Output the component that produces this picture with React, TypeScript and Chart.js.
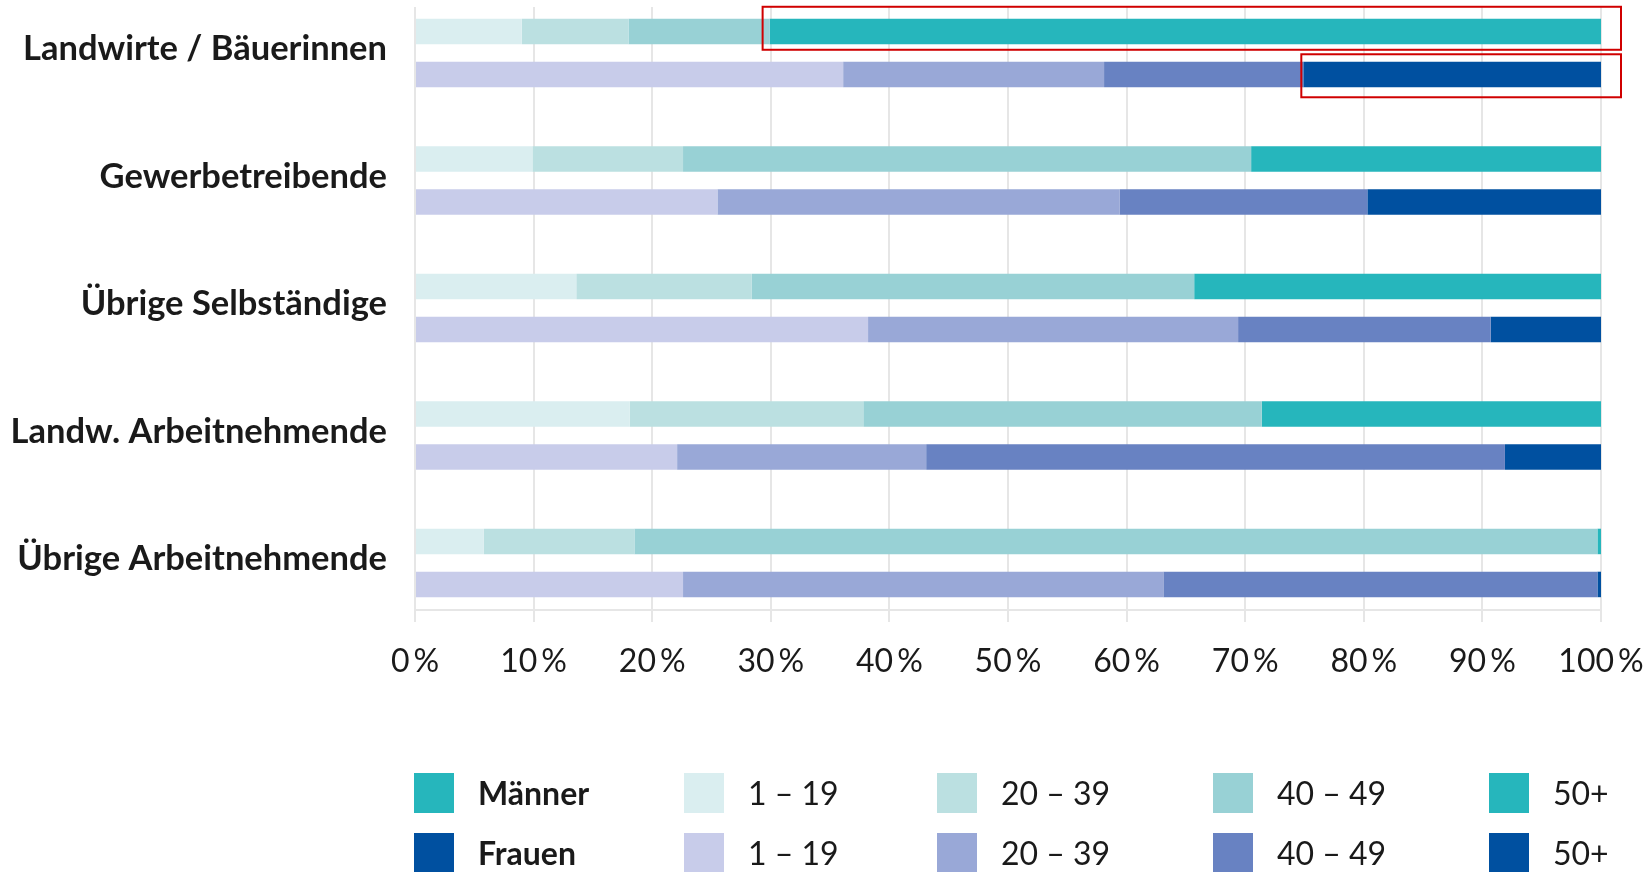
import React, { useEffect, useRef } from 'react';
import { Chart, registerables } from 'chart.js';

Chart.register(...registerables);

// ---- data ----
const CATEGORIES = [
  'Landwirte / Bäuerinnen',
  'Gewerbetreibende',
  'Übrige Selbständige',
  'Landw. Arbeitnehmende',
  'Übrige Arbeitnehmende',
];
const GENDERS = ['Männer', 'Frauen'];
const AGE_GROUPS = ['1 – 19', '20 – 39', '40 – 49', '50+'];

const MEN_1_19 = [9.0, 9.9, 13.6, 18.1, 5.8];
const MEN_20_39 = [9.0, 12.7, 14.8, 19.7, 12.7];
const MEN_40_49 = [11.9, 47.9, 37.3, 33.6, 81.2];
const MEN_50_PLUS = [70.1, 29.5, 34.3, 28.6, 0.3];

const WOMEN_1_19 = [36.1, 25.5, 38.2, 22.1, 22.6];
const WOMEN_20_39 = [22.0, 33.9, 31.2, 21.0, 40.5];
const WOMEN_40_49 = [16.8, 20.9, 21.3, 48.8, 36.6];
const WOMEN_50_PLUS = [25.1, 19.7, 9.3, 8.1, 0.3];

const X_TICKS = [0, 10, 20, 30, 40, 50, 60, 70, 80, 90, 100];

// ---- styles ----
const MEN_COLORS = ['#DAEEF0', '#BBE0E1', '#98D1D5', '#26B6BC'];
const WOMEN_COLORS = ['#C8CCEA', '#99A8D7', '#6882C2', '#0050A0'];
const GRID_COLOR = '#E6E6E6';
const TEXT_COLOR = '#1a1a1a';
const FONT = 'Lato';

const Y_MIN = -0.361;
const Y_MAX = 4.369;

const LEGEND_X = [414, 684, 937, 1213, 1489];
const LEGEND_Y = [773, 833];

export default function App() {
  const canvasRef = useRef<HTMLCanvasElement | null>(null);

  useEffect(() => {
    const canvas = canvasRef.current;
    if (!canvas) return;

    const menSeries = [MEN_1_19, MEN_20_39, MEN_40_49, MEN_50_PLUS];
    const womenSeries = [WOMEN_1_19, WOMEN_20_39, WOMEN_40_49, WOMEN_50_PLUS];

    const toPoints = (arr: number[]) => arr.map((v, i) => ({ x: v, y: i }));

    const datasets: any[] = [];
    menSeries.forEach((s, k) =>
      datasets.push({
        label: `${GENDERS[0]} ${AGE_GROUPS[k]}`,
        data: toPoints(s),
        backgroundColor: MEN_COLORS[k],
        stack: 'M',
        borderWidth: 0,
      })
    );
    womenSeries.forEach((s, k) =>
      datasets.push({
        label: `${GENDERS[1]} ${AGE_GROUPS[k]}`,
        data: toPoints(s),
        backgroundColor: WOMEN_COLORS[k],
        stack: 'F',
        borderWidth: 0,
      })
    );

    const highlights = [
      { dataset: 3, index: 0, l: 7, r: 20, t: 12, b: 5.5 },
      { dataset: 7, index: 0, l: 2, r: 20, t: 7.5, b: 10 },
    ];

    const highlightPlugin = {
      id: 'highlightBoxes',
      afterDatasetsDraw(chart: any) {
        const ctx = chart.ctx;
        ctx.save();
        ctx.strokeStyle = '#D00000';
        ctx.lineWidth = 2;
        highlights.forEach((h) => {
          const el = chart.getDatasetMeta(h.dataset).data[h.index];
          if (!el) return;
          const { x, y, base, height } = el.getProps(['x', 'y', 'base', 'height'], true);
          const left = Math.min(x, base) - h.l;
          const right = Math.max(x, base) + h.r;
          const top = y - height / 2 - h.t;
          const bottom = y + height / 2 + h.b;
          ctx.strokeRect(left, top, right - left, bottom - top);
        });
        ctx.restore();
      },
    };

    const chart = new Chart(canvas, {
      type: 'bar',
      data: { datasets },
      plugins: [highlightPlugin],
      options: {
        indexAxis: 'y',
        animation: false,
        responsive: false,
        devicePixelRatio: 1,
        categoryPercentage: 0.6745,
        barPercentage: 0.593,
        layout: { padding: { top: 7, right: 49, left: 0, bottom: 0 } },
        plugins: {
          legend: { display: false },
          tooltip: { enabled: false },
          title: { display: false },
        },
        scales: {
          x: {
            type: 'linear',
            position: 'bottom',
            stacked: true,
            min: 0,
            max: 100,
            afterBuildTicks: (scale: any) => {
              scale.ticks = X_TICKS.map((v) => ({ value: v }));
            },
            afterFit: (scale: any) => {
              scale.height = 262;
              scale.paddingLeft = 0;
              scale.paddingRight = 0;
            },
            grid: {
              color: GRID_COLOR,
              lineWidth: 2,
              drawTicks: true,
              tickLength: 12,
              tickColor: GRID_COLOR,
            },
            border: { display: true, color: GRID_COLOR, width: 2 },
            ticks: {
              font: { family: FONT, size: 32 },
              color: TEXT_COLOR,
              padding: 20,
              maxRotation: 0,
              autoSkip: false,
              callback: (v: any) => `${v}\u2009%`,
            },
          },
          y: {
            type: 'linear',
            position: 'left',
            reverse: true,
            offset: false,
            bounds: 'data',
            min: Y_MIN,
            max: Y_MAX,
            afterBuildTicks: (scale: any) => {
              scale.ticks = CATEGORIES.map((_, i) => ({ value: i }));
            },
            afterFit: (scale: any) => {
              scale.width = 415;
              scale.paddingTop = 0;
              scale.paddingBottom = 0;
            },
            grid: { display: false, drawTicks: false, offset: false },
            border: { display: false },
            ticks: {
              font: { family: FONT, size: 34.5, weight: 'bold' },
              color: TEXT_COLOR,
              padding: 28,
              labelOffset: -4,
              autoSkip: false,
              callback: (v: any) => CATEGORIES[Math.round(Number(v))] ?? '',
            },
          },
        },
      } as any,
    });

    return () => chart.destroy();
  }, []);

  const legendRows = [
    { name: GENDERS[0], colors: MEN_COLORS },
    { name: GENDERS[1], colors: WOMEN_COLORS },
  ];

  return (
    <div style={{ position: 'absolute', left: 0, top: 0, width: 1650, height: 872, background: '#fff', overflow: 'hidden' }}>
      <canvas ref={canvasRef} width={1650} height={872} style={{ position: 'absolute', left: 0, top: 0, width: 1650, height: 872 }} />
      {legendRows.map((row, r) => (
        <React.Fragment key={row.name}>
          {[row.name, ...AGE_GROUPS].map((label, c) => {
            const color = c === 0 ? row.colors[row.colors.length - 1] : row.colors[c - 1];
            return (
              <div
                key={label + c}
                style={{
                  position: 'absolute',
                  left: LEGEND_X[c],
                  top: LEGEND_Y[r],
                  height: 40,
                  display: 'flex',
                  alignItems: 'center',
                  whiteSpace: 'nowrap',
                }}
              >
                <div style={{ width: 40, height: 40, background: color }} />
                <span
                  style={{
                    marginLeft: 24,
                    fontFamily: FONT,
                    fontSize: 32,
                    fontWeight: c === 0 ? 700 : 400,
                    color: TEXT_COLOR,
                    lineHeight: '40px',
                  }}
                >
                  {label}
                </span>
              </div>
            );
          })}
        </React.Fragment>
      ))}
    </div>
  );
}
